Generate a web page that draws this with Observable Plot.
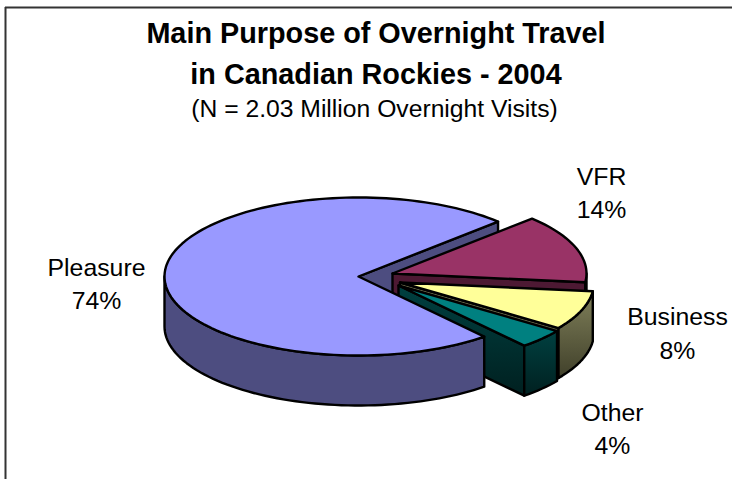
<!DOCTYPE html>
<html>
<head>
<meta charset="utf-8">
<script src="https://cdn.jsdelivr.net/npm/d3@7"></script>
<script src="https://cdn.jsdelivr.net/npm/@observablehq/plot@0.6"></script>
<style>
  html, body { margin: 0; padding: 0; background: #fff; }
  svg { display: block; }
</style>
</head>
<body>
<div id="chart"></div>
<script>
// Overnight visits by main purpose, percent of total
const purposes = ["Pleasure", "VFR", "Business", "Other"];
const shares = [74, 14, 8, 4];

const titleLines = ["Main Purpose of Overnight Travel", "in Canadian Rockies - 2004"];
const subtitle = "(N = 2.03 Million Overnight Visits)";

// Pie layout, in chart units
const rx = 194, ry = 79, depth = 50;
const lastEdge = 44;                 // where the final slice closes, degrees
const apexX = [358, 392, 399.5, 398];
const apexY = [276, 273, 282, 285];
const labelX = [96, 601, 677, 612];
const labelY = [281.5, 190.5, 331, 426.5];

const topFill = ["#9999ff", "#993366", "#ffff99", "#008080"];
const wallFill = ["#4d4d80", "#4d1933", "url(#businessWall)", "url(#otherWall)"];

// Slices run clockwise; Pleasure begins so that Other ends next to it
const turn = d3.sum(shares);
let cursor = lastEdge + shares[0] / turn * 360;
const slices = purposes.map((name, i) => {
  const from = cursor;
  cursor -= shares[i] / turn * 360;
  return {name, share: shares[i], from, to: cursor, i};
});

const rim = (s, a) => ({
  x: apexX[s.i] + rx * Math.cos(a * Math.PI / 180),
  y: apexY[s.i] - ry * Math.sin(a * Math.PI / 180)
});
const drop = (p) => ({x: p.x, y: p.y + depth});
const arc = (s, a0, a1) => {
  const n = Math.max(2, Math.ceil(Math.abs(a1 - a0) / 2));
  return d3.range(n + 1).map((k) => rim(s, a0 + (a1 - a0) * k / n));
};
const apex = (s) => ({x: apexX[s.i], y: apexY[s.i]});

const topFace = (s) => [apex(s), ...arc(s, s.from, s.to)];
// Cut face along an edge of the slice
const cutFace = (s, a) => [apex(s), rim(s, a), drop(rim(s, a)), drop(apex(s))];
// Outer wall, only the part of the rim that faces the viewer
const outerWall = (s) => {
  const a0 = s.i === 0 ? Math.min(s.from, 360) : Math.min(s.from, 0);
  const a1 = s.i === 0 ? 180 : s.to;
  const top = arc(s, a0, a1);
  return [...top, ...top.map(drop).reverse()];
};

const face = (points, fill) =>
  Plot.line(points, {x: "x", y: "y", fill, stroke: "#000", strokeWidth: 2.4, curve: "linear-closed"});

const [pleasure, vfr, business, other] = slices;

const gradient = (id, top, bottom) => `
  <linearGradient id="${id}" x1="0" y1="0" x2="0" y2="1">
    <stop offset="0" stop-color="${top}"/><stop offset="1" stop-color="${bottom}"/>
  </linearGradient>`;

const plot = Plot.plot({
  width: 732,
  height: 479,
  margin: 0,
  x: {domain: [0, 732], range: [0, 732], axis: null},
  y: {domain: [0, 479], range: [0, 479], axis: null},
  marks: [
    () => {
      const defs = document.createElementNS("http://www.w3.org/2000/svg", "defs");
      defs.innerHTML = gradient("businessWall", "#80805a", "#40402a") + gradient("otherWall", "#004040", "#002020");
      return defs;
    },
    // Chart frame
    Plot.ruleY([7], {x1: 5, x2: 732, stroke: "#333", strokeWidth: 2}),
    Plot.ruleX([5], {y1: 7, y2: 479, stroke: "#333", strokeWidth: 2}),

    // Pie, painted back to front
    face(cutFace(pleasure, pleasure.to), wallFill[0]),
    face(cutFace(vfr, vfr.to), wallFill[1]),
    face(outerWall(vfr), wallFill[1]),
    face(topFace(vfr), topFill[1]),
    face(cutFace(business, business.to), wallFill[2]),
    face(outerWall(business), wallFill[2]),
    face(topFace(business), topFill[2]),
    face(cutFace(other, other.to), wallFill[3]),
    face(outerWall(other), wallFill[3]),
    face(topFace(other), topFill[3]),
    face(outerWall(pleasure), wallFill[0]),
    face(topFace(pleasure), topFill[0]),

    // Headings
    Plot.text(titleLines, {
      x: 375.5, y: (d, i) => [33, 74][i], text: (d) => d,
      fontFamily: "Liberation Sans", fontWeight: "bold", fontSize: 28.8, fill: "#000"
    }),
    Plot.text([subtitle], {
      x: 374, y: 109, text: (d) => d,
      fontFamily: "Liberation Sans", fontSize: 24.7, fill: "#000"
    }),

    // Slice labels
    Plot.text(slices, {
      x: (d) => labelX[d.i], y: (d) => labelY[d.i],
      text: (d) => `${d.name}\n${d.share}%`,
      lineHeight: 1.35,
      fontFamily: "Liberation Sans", fontSize: 24.8, fill: "#000"
    })
  ]
});

document.getElementById("chart").append(plot);
</script>
</body>
</html>
